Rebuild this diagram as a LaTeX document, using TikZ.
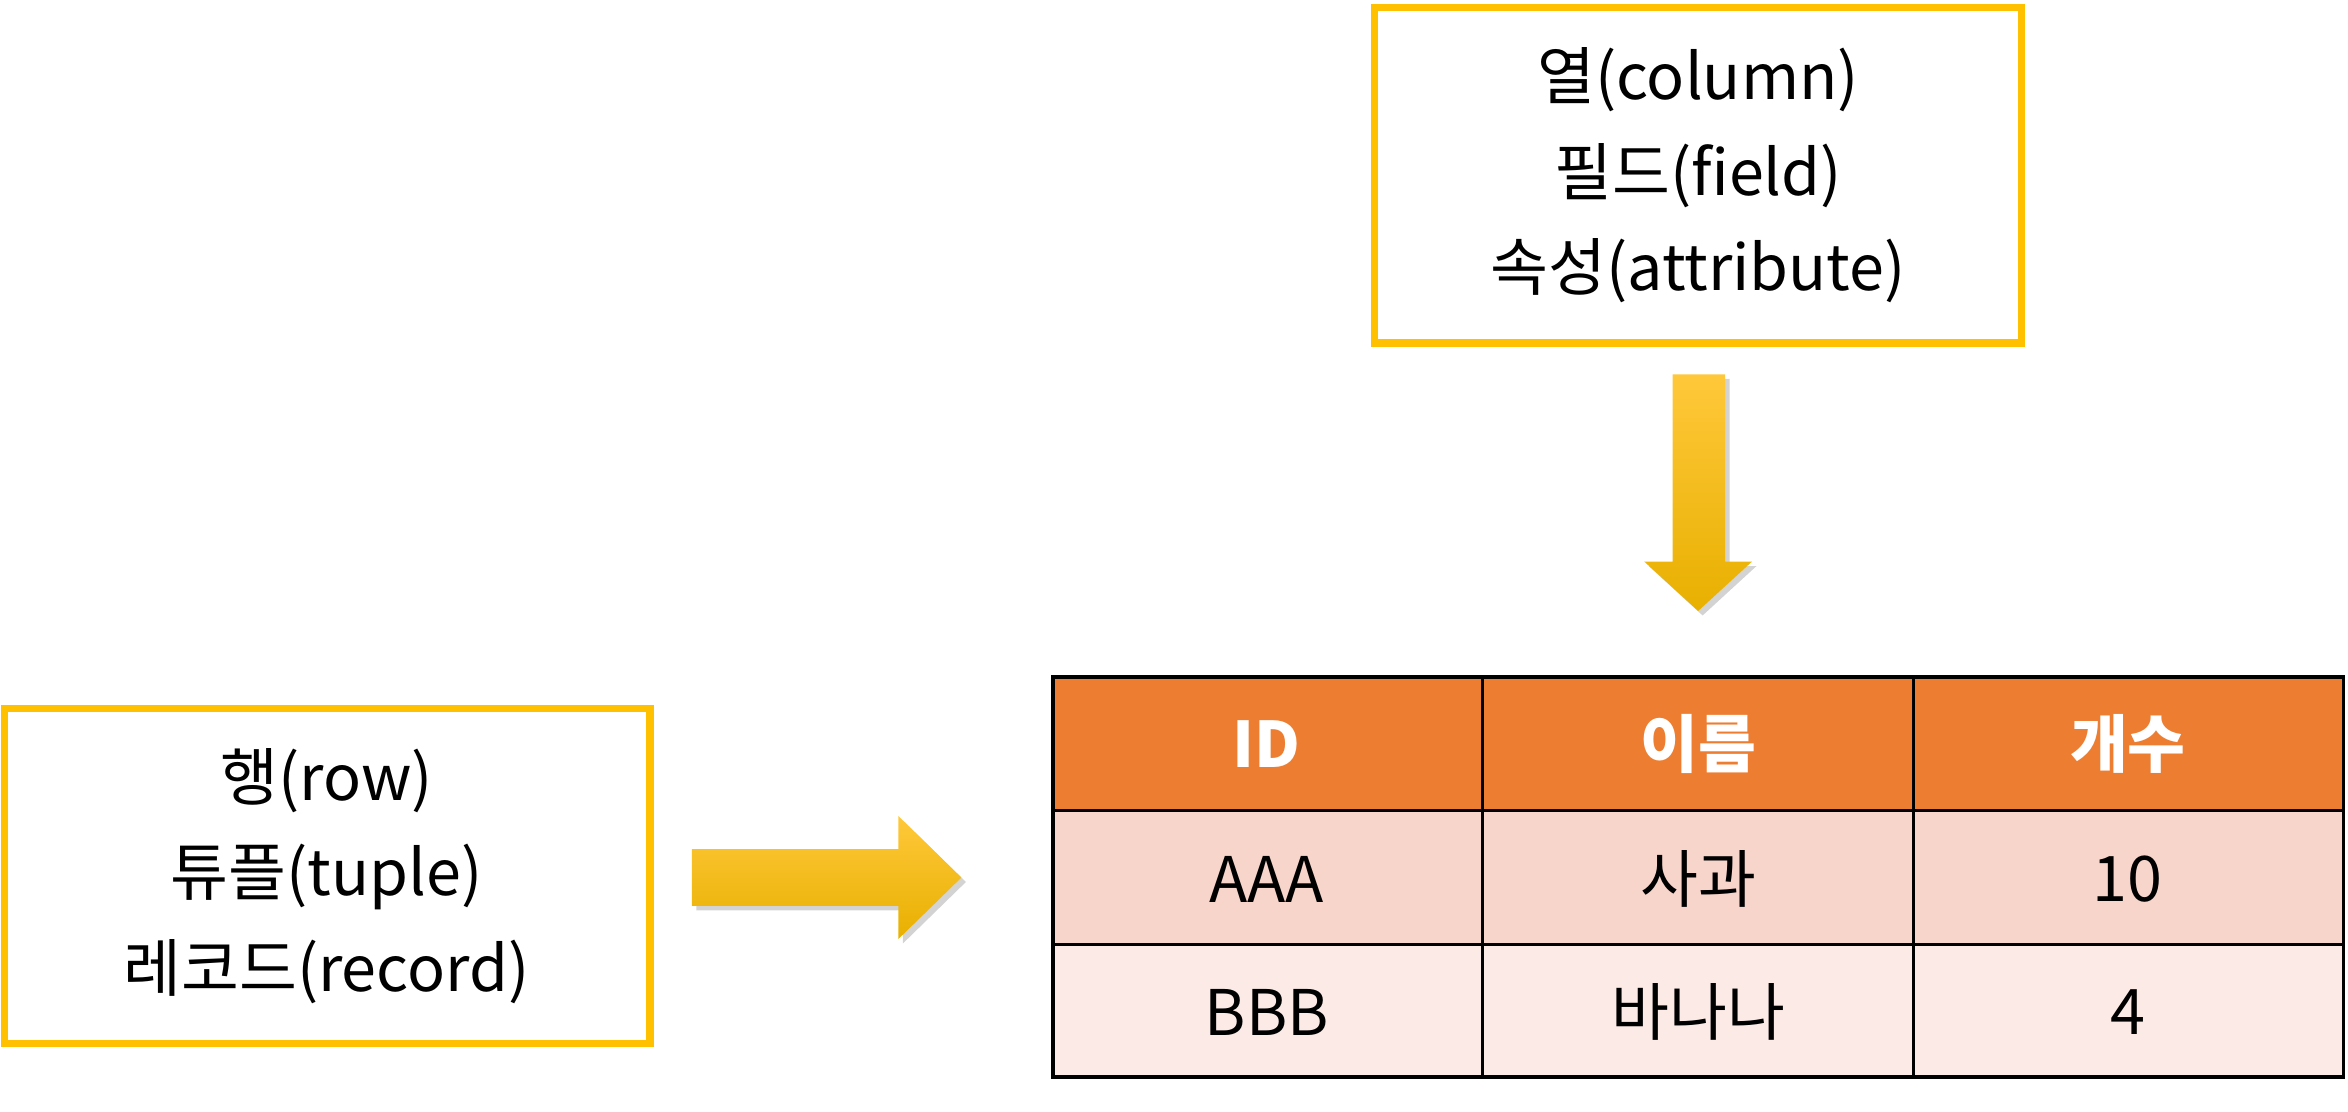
\documentclass[tikz,border=0pt]{standalone}
\usepackage{fontspec}
\setmainfont{Noto Sans CJK KR}
\usetikzlibrary{shadows}
\definecolor{boxor}{HTML}{FFC000}
\definecolor{hdr}{HTML}{ED7D31}
\definecolor{rowa}{HTML}{F8D5CB}
\definecolor{rowb}{HTML}{FBEAE6}
\definecolor{arrA}{HTML}{FFC83A}
\definecolor{arrB}{HTML}{E8B000}
\begin{document}
\begin{tikzpicture}[x=1pt,y=-1pt,
  lbl/.style={draw=boxor,line width=5pt,fill=white,align=center,font=\fontsize{42}{64}\selectfont},
  cell/.style={font=\fontsize{42}{50}\selectfont},
  hcell/.style={font=\fontsize{42}{50}\selectfont\bfseries,text=white},
  arr/.style={top color=arrA,bottom color=arrB,draw=none,drop shadow={shadow xshift=3pt,shadow yshift=-3pt,opacity=0.35}}]
\useasboundingbox (0,0) rectangle (1568,742);
% boxes
\draw[draw=boxor,line width=5pt,fill=white] (918,5) rectangle (1350,229);
\node[align=center,font=\fontsize{42}{64}\selectfont] (col) at (1134,117) {열(column)\\필드(field)\\속성(attribute)};
\draw[draw=boxor,line width=5pt,fill=white] (3,473) rectangle (434,697);
\node[align=center,font=\fontsize{42}{64}\selectfont] (row) at (218,585) {행(row)\\튜플(tuple)\\레코드(record)};
% arrows
\path[arr] (1117,250) -- (1152,250) -- (1152,375) -- (1170,375) -- (1134,408) -- (1098,375) -- (1117,375) -- cycle;
\path[arr,left color=arrA,right color=arrB,top color=arrA,bottom color=arrB] (462,567) -- (600,567) -- (600,545) -- (642,586) -- (600,627) -- (600,605) -- (462,605) -- cycle;
% table
\fill[hdr] (703,452) rectangle (1565,541);
\fill[rowa] (703,541) rectangle (1565,631);
\fill[rowb] (703,631) rectangle (1565,719);
\draw[line width=2.5pt] (703,452) rectangle (1565,719);
\draw[line width=2pt] (703,541) -- (1565,541) (703,631) -- (1565,631) (990,452) -- (990,719) (1278,452) -- (1278,719);
\node[hcell] (h1) at (846,497) {ID};
\node[hcell] (h2) at (1134,497) {이름};
\node[hcell] (h3) at (1421,497) {개수};
\node[cell] (a1) at (846,587) {AAA};
\node[cell] (a2) at (1134,587) {사과};
\node[cell] (a3) at (1421,587) {10};
\node[cell] (b1) at (846,676) {BBB};
\node[cell] (b2) at (1134,676) {바나나};
\node[cell] (b3) at (1421,676) {4};
\end{tikzpicture}
\end{document}
